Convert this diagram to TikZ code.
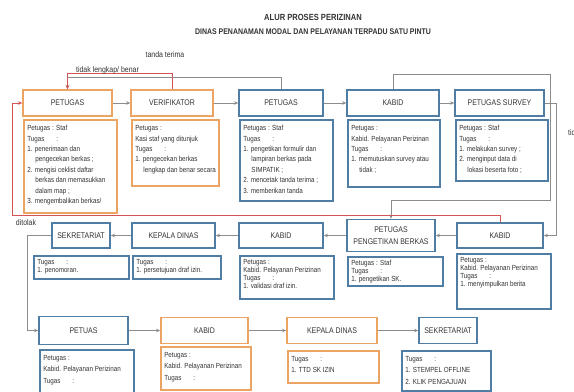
\documentclass[tikz,border=0pt]{standalone}
\usepackage{fontspec}
\setmainfont{Liberation Sans}[FakeStretch=0.85]
\usetikzlibrary{arrows.meta}
\definecolor{oranye}{HTML}{EBA463}
\definecolor{biru}{HTML}{4F7DA3}
\definecolor{abu}{HTML}{8C8C8C}
\definecolor{merah}{HTML}{D65353}
\definecolor{teks}{HTML}{333333}
\newcommand{\isi}[3]{\parbox[t][\dimexpr#2-6pt\relax][t]{\dimexpr#1-6pt\relax}{\begin{tabular}[t]{@{}l@{}}#3\end{tabular}}}
\newcommand{\lanjut}{\hspace*{1.1em}}
\newcommand{\tgs}{Tugas\hspace{1.6em}:}
\tikzset{
  kepala/.style={draw, line width=1.3pt, fill=white, text=teks, align=center,
    font=\fontsize{7}{10}\selectfont, inner sep=1pt},
  rincian/.style={draw, line width=1.3pt, fill=white, text=teks, anchor=north west,
    inner sep=3pt, font=\fontsize{6.3}{8.9}\selectfont},
  panah/.style={draw=abu, line width=0.7pt, -{Stealth[length=3.5pt,width=3pt]}},
  tolak/.style={draw=merah, line width=0.7pt, -{Stealth[length=3.5pt,width=3pt]}},
  ket/.style={text=teks, font=\fontsize{7}{8}\selectfont}
}
\begin{document}
\begin{tikzpicture}[x=0.03cm, y=-0.03cm]
\useasboundingbox (0,0) rectangle (574,392);
\fill[white] (0,0) rectangle (574,392);
\node[text=teks, font=\bfseries\fontsize{7.6}{9}\selectfont] (judul) at (313,17) {ALUR PROSES PERIZINAN};
\node[text=teks, font=\bfseries\fontsize{7}{9}\selectfont] (subjudul) at (313,32) {DINAS PENANAMAN MODAL DAN PELAYANAN TERPADU SATU PINTU};

\node[kepala, draw=oranye, minimum width=2.67cm, minimum height=0.78cm] (petugas1) at (67.5,103) {PETUGAS};
\node[kepala, draw=oranye, minimum width=2.46cm, minimum height=0.78cm] (verifikator) at (172,103) {VERIFIKATOR};
\node[kepala, draw=biru, minimum width=2.52cm, minimum height=0.78cm] (petugas2) at (281,103) {PETUGAS};
\node[kepala, draw=biru, minimum width=2.76cm, minimum height=0.78cm] (kabid1) at (393,103) {KABID};
\node[kepala, draw=biru, minimum width=2.67cm, minimum height=0.78cm] (survey) at (499.5,103) {PETUGAS SURVEY};

\node[rincian, draw=oranye] (petugas1isi) at (23,119) {\isi{2.79cm}{2.79cm}{Petugas : Staf\\ \tgs\\ 1. penerimaan dan\\ \lanjut pengecekan berkas ;\\ 2. mengisi ceklist daftar\\ \lanjut berkas dan memasukkan\\ \lanjut dalam map ;\\ 3. mengembalikan berkas/}};
\node[rincian, draw=oranye] (verifikatorisi) at (131,119) {\isi{2.61cm}{1.98cm}{Petugas :\\ Kasi staf yang ditunjuk\\ \tgs\\ 1. pengecekan berkas\\ \lanjut lengkap dan benar secara}};
\node[rincian, draw=biru] (petugas2isi) at (239,119) {\isi{2.79cm}{2.43cm}{Petugas : Staf\\ \tgs\\ 1. pengetikan formulir dan\\ \lanjut lampiran berkas pada\\ \lanjut SIMPATIK ;\\ 2. mencetak tanda terima ;\\ 3. memberikan tanda}};
\node[rincian, draw=biru] (kabid1isi) at (347,119) {\isi{2.76cm}{2.01cm}{Petugas :\\ Kabid. Pelayanan Perizinan\\ \tgs\\ 1. memutuskan survey atau\\ \lanjut tidak ;}};
\node[rincian, draw=biru] (surveyisi) at (455,119) {\isi{2.76cm}{1.83cm}{Petugas : Staf\\ \tgs\\ 1. melakukan survey ;\\ 2. menginput data di\\ \lanjut lokasi beserta foto ;}};

\node[kepala, draw=biru, minimum width=1.74cm, minimum height=0.75cm] (sekretariat2) at (81,235.5) {SEKRETARIAT};
\node[kepala, draw=biru, minimum width=2.49cm, minimum height=0.75cm] (kepaladinas2) at (173.5,235.5) {KEPALA DINAS};
\node[kepala, draw=biru, minimum width=2.52cm, minimum height=0.75cm] (kabid2) at (281,235.5) {KABID};
\node[kepala, draw=biru, minimum width=2.64cm, minimum height=0.96cm] (pengetikan) at (391,235.5) {PETUGAS\\PENGETIKAN BERKAS};
\node[kepala, draw=biru, minimum width=2.58cm, minimum height=0.75cm] (kabid3) at (500,235.5) {KABID};

\node[rincian, draw=biru, font=\fontsize{6.3}{6.8}\selectfont] (sekretariat2isi) at (33,255) {\isi{2.85cm}{0.69cm}{\tgs\\ 1. penomoran.}};
\node[rincian, draw=biru, font=\fontsize{6.3}{6.8}\selectfont] (kepaladinas2isi) at (132,255) {\isi{2.64cm}{0.69cm}{\tgs\\ 1. persetujuan draf izin.}};
\node[rincian, draw=biru, font=\fontsize{6.3}{6.8}\selectfont] (kabid2isi) at (239,255) {\isi{2.82cm}{1.29cm}{Petugas :\\ Kabid. Pelayanan Perizinan\\ \tgs\\ 1. validasi draf izin.}};
\node[rincian, draw=biru, font=\fontsize{6.3}{6.8}\selectfont] (pengetikanisi) at (347,256) {\isi{2.85cm}{0.87cm}{Petugas : Staf\\ \tgs\\ 1. pengetikan SK.}};
\node[rincian, draw=biru, font=\fontsize{6.3}{6.8}\selectfont] (kabid3isi) at (456,253) {\isi{2.82cm}{1.65cm}{Petugas :\\ Kabid. Pelayanan Perizinan\\ \tgs\\ 1. menyimpulkan berita}};

\node[kepala, draw=biru, minimum width=2.67cm, minimum height=0.84cm] (petuas) at (83.5,330.5) {PETUAS};
\node[kepala, draw=oranye, minimum width=2.61cm, minimum height=0.78cm] (kabid4) at (204.5,330.5) {KABID};
\node[kepala, draw=oranye, minimum width=2.7cm, minimum height=0.78cm] (kepaladinas3) at (332,330.5) {KEPALA DINAS};
\node[kepala, draw=biru, minimum width=1.74cm, minimum height=0.78cm] (sekretariat3) at (448,330.5) {SEKRETARIAT};

\node[rincian, draw=biru, font=\fontsize{6.3}{9.4}\selectfont] (petuasisi) at (39,349) {\isi{2.82cm}{1.29cm}{Petugas :\\ Kabid. Pelayanan Perizinan\\ \tgs}};
\node[rincian, draw=oranye, font=\fontsize{6.3}{9.4}\selectfont] (kabid4isi) at (160,346) {\isi{2.7cm}{1.29cm}{Petugas :\\ Kabid. Pelayanan Perizinan\\ \tgs}};
\node[rincian, draw=oranye, font=\fontsize{6.3}{9.4}\selectfont] (kepaladinas3isi) at (287,350) {\isi{2.73cm}{0.96cm}{\tgs\\ 1. TTD SK IZIN}};
\node[rincian, draw=biru, font=\fontsize{6.3}{9.4}\selectfont] (sekretariat3isi) at (401,350) {\isi{2.67cm}{1.2cm}{\tgs\\ 1. STEMPEL OFFLINE\\ 2. KLIK PENGAJUAN}};

\draw[panah] (petugas1) -- (verifikator);
\draw[panah] (verifikator) -- (petugas2);
\draw[panah] (petugas2) -- (kabid1);
\draw[panah] (kabid1) -- (survey);

\draw[panah] (petugas2.north) -- ++(0,-12) -| (petugas1.north);
\draw[tolak] (verifikator.north) -- ++(0,-16) -| (petugas1.north);
\node[ket] (tandaterima) at (165,55) {tanda terima};
\node[ket] (tidaklengkap) at (107.5,70) {tidak lengkap/ benar};

\coordinate (sudut) at (550,200);
\draw[panah] (kabid1.north) -- ++(0,-15) -| (sudut) -| (pengetikan.north);
\node[ket, anchor=west] (tidak) at (564,133) {tidak};

\draw[panah] (survey.east) -- ++(12,0) |- (kabid3.east);

\coordinate (kiri) at (12,215);
\draw[tolak] (kabid3.north) |- (kiri) |- (petugas1.west);
\node[ket] (ditolak) at (26,223) {ditolak};

\draw[panah] (kabid3) -- (pengetikan);
\draw[panah] (pengetikan) -- (kabid2);
\draw[panah] (kabid2) -- (kepaladinas2);
\draw[panah] (kepaladinas2) -- (sekretariat2);

\draw[panah] (sekretariat2.west) -- ++(-24,0) |- (petuas.west);

\draw[panah] (petuas) -- (kabid4);
\draw[panah] (kabid4) -- (kepaladinas3);
\draw[panah] (kepaladinas3) -- (sekretariat3);
\end{tikzpicture}
\end{document}
